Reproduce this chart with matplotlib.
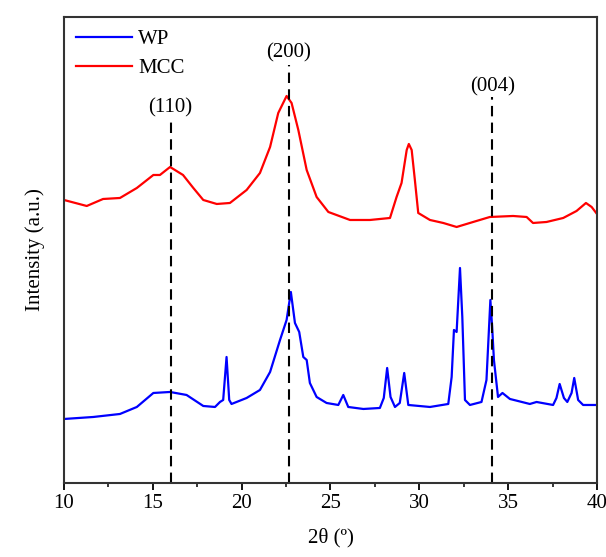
import matplotlib
matplotlib.use("Agg")
import matplotlib.pyplot as plt
from matplotlib.ticker import MultipleLocator

plt.rcParams["font.family"] = ["Liberation Serif", "DejaVu Serif"]

# ---- data (2theta in deg, intensity in arbitrary units) ----
mcc_x = [10.0, 11.28, 12.2, 13.15, 14.1, 15.03, 15.4, 15.97, 16.7, 17.28, 17.84, 18.6,
         19.34, 20.28, 21.03, 21.6, 22.06, 22.53, 22.81, 23.19, 23.66, 24.22, 24.88,
         26.1, 27.22, 28.35, 28.72, 29.0, 29.29, 29.41, 29.57, 29.75, 29.94, 30.6,
         31.35, 32.1, 33.03, 33.97, 35.28, 36.04, 36.4, 37.16, 38.1, 38.85, 39.38,
         39.7, 40.0]
mcc_y = [283, 277, 284, 285, 295, 308, 308, 316, 308, 295, 283, 279,
         280, 293, 310, 336, 370, 387, 380, 353, 313, 286, 271,
         263, 263, 265, 286, 300, 333, 339, 333, 303, 270, 263,
         260, 256, 261, 266, 267, 266, 260, 261, 265, 272, 280,
         276, 269]

wp_x = [10.0, 11.65, 13.15, 14.1, 15.03, 15.97, 16.9, 17.84, 18.5, 18.78, 18.96, 19.15,
        19.3, 19.43, 20.28, 21.03, 21.6, 22.16, 22.53, 22.77, 23.0, 23.24, 23.47, 23.66,
        23.84, 24.22, 24.78, 25.44, 25.72, 26.0, 26.85, 27.78, 28.0, 28.19, 28.38, 28.63,
        28.9, 29.15, 29.38, 30.6, 31.63, 31.82, 31.95, 32.1, 32.29, 32.42, 32.57, 32.85,
        33.5, 33.78, 34.0, 34.1, 34.2, 34.43, 34.68, 35.1, 36.22, 36.6, 37.53, 37.72,
        37.9, 38.14, 38.33, 38.57, 38.72, 38.94, 39.22, 40.0]
wp_y = [64, 66, 69, 76, 90, 91, 88, 77, 76, 81, 83, 126,
        83, 79, 85, 93, 111, 143, 163, 191, 160, 151, 126, 123,
        100, 86, 80, 78, 88, 76, 74, 75, 85, 115, 86, 76,
        80, 110, 78, 76, 79, 106, 153, 151, 215, 166, 83, 78,
        81, 103, 183, 156, 123, 86, 90, 84, 79, 81, 78, 85,
        99, 85, 81, 90, 105, 83, 78, 78]

planes = ["(110)", "(200)", "(004)"]
plane_x = [16.0, 22.65, 34.1]
plane_top = [361, 418, 386]
label_y = [375, 430, 396]

fig = plt.figure(figsize=(6.06, 5.57), dpi=100)
ax = fig.add_axes([0.1056, 0.1329, 0.8795, 0.8366])

ax.plot(wp_x, wp_y, color="#0000ff", lw=1.6, label="WP")
ax.plot(mcc_x, mcc_y, color="#ff0000", lw=1.6, label="MCC")

for lab, px, pt, ly in zip(planes, plane_x, plane_top, label_y):
    ax.plot([px, px], [0, pt], color="black", ls=(0, (5, 3)), lw=1.5)
    ax.text(px, ly, lab, ha="center", va="center", fontsize=15)

ax.set_xlim(10, 40)
ax.set_ylim(0, 466)
ax.xaxis.set_major_locator(MultipleLocator(5))
ax.xaxis.set_minor_locator(MultipleLocator(2.5))
ax.tick_params(axis="x", which="major", direction="out", length=5, width=1.3,
               labelsize=15, pad=3)
ax.tick_params(axis="x", which="minor", direction="out", length=3, width=1.1)
ax.set_yticks([])
for s in ax.spines.values():
    s.set_linewidth(1.5)
    s.set_color("#333333")

ax.set_xlabel("2θ (º)", fontsize=15, labelpad=11)
ax.set_ylabel("Intensity (a.u.)", fontsize=15, labelpad=14)

ax.legend(loc="upper left", frameon=False, fontsize=15, handlelength=2.65,
          handletextpad=0.3, labelspacing=0.45, borderaxespad=0.2)

fig.savefig("out.png", dpi=100)
